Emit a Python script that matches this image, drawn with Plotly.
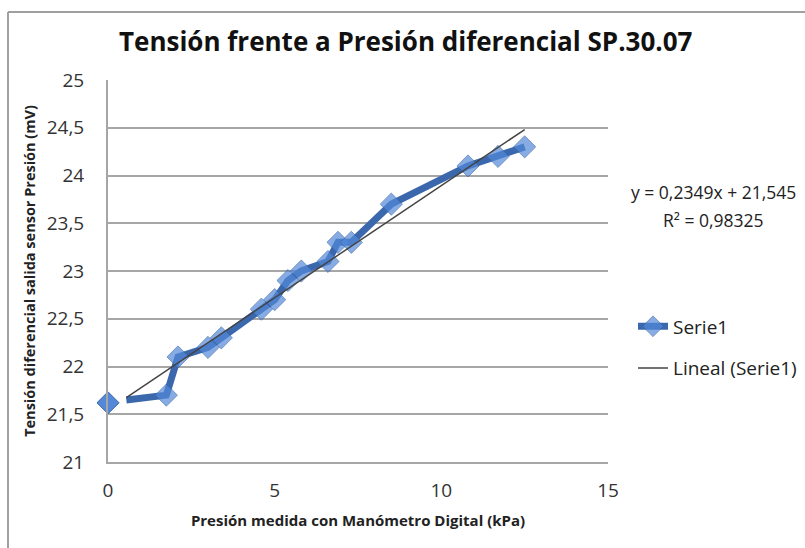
import plotly.graph_objects as go

# Medidas: presión diferencial (kPa) frente a tensión de salida del sensor (mV)
presion = [0.0, 0.55, 1.75, 2.1, 3.0, 3.4, 4.6, 5.0, 5.4, 5.8, 6.6, 6.9, 7.3, 8.5, 10.8, 11.7, 12.5]
tension = [21.62, 21.65, 21.7, 22.1, 22.2, 22.3, 22.6, 22.7, 22.9, 23.0, 23.1, 23.3, 23.3, 23.7, 24.1, 24.2, 24.3]

# Ajuste lineal (Lineal (Serie1))
pendiente = 0.2349
ordenada = 21.545
r2 = 0.98325

x_ticks = [0, 5, 10, 15]
x_ticktext = ["0", "5", "10", "15"]
y_ticks = [21, 21.5, 22, 22.5, 23, 23.5, 24, 24.5, 25]
y_ticktext = ["21", "21,5", "22", "22,5", "23", "23,5", "24", "24,5", "25"]

FONT = "'Open Sans', Lato, sans-serif"
LINE_BLUE = "#3b68ad"
MARK_BLUE = "#5489d8"

fig = go.Figure()

# Serie1: tramo unido por línea
n = len(presion) - 1
fig.add_trace(go.Scatter(
    x=presion[1:], y=tension[1:], mode="lines+markers", name="Serie1",
    legendgroup="serie",
    line=dict(color=LINE_BLUE, width=7),
    marker=dict(symbol="diamond", size=[0] + [17] * (n - 1), color=MARK_BLUE,
                line=dict(color="#3a68ad", width=1)),
))
# Primera medida (0 kPa), sin línea
fig.add_trace(go.Scatter(
    x=presion[:1], y=tension[:1], mode="markers", showlegend=False,
    legendgroup="serie", cliponaxis=False,
    marker=dict(symbol="diamond", size=17, color=MARK_BLUE,
                line=dict(color="#3a68ad", width=1)),
))

# Línea de tendencia
x_min = min(presion[1:])
x_max = max(presion[1:])
fig.add_trace(go.Scatter(
    x=[x_min, x_max], y=[pendiente * x_min + ordenada, pendiente * x_max + ordenada],
    mode="lines", name="Lineal (Serie1)", legendgroup="tendencia",
    line=dict(color="#444444", width=1.5),
))

eq_line = f"y = {pendiente:.4f}x + {ordenada:.3f}".replace(".", ",")
r2_line = "R² = " + f"{r2:.5f}".replace(".", ",")

fig.update_layout(
    width=805, height=548,
    margin=dict(l=108, r=197, t=80, b=86, autoexpand=False),
    paper_bgcolor="white", plot_bgcolor="white",
    font=dict(family=FONT, color="#222222"),
    title=dict(text="<b>Tensión frente a Presión diferencial SP.30.07</b>",
               x=0.504, xanchor="center", y=1 - 42 / 548, yanchor="middle",
               font=dict(size=26, family=FONT, color="#111111")),
    xaxis=dict(range=[0, 15], tickvals=x_ticks, ticktext=x_ticktext,
               showgrid=False, zeroline=False, showline=True, linecolor="#a6a6a6",
               linewidth=2, ticks="", tickfont=dict(size=19, color="#333333"),
               ticklabelstandoff=10,
               title=dict(text="<b>Presión medida con Manómetro Digital (kPa)</b>",
                          font=dict(size=15, color="#222222"), standoff=14)),
    yaxis=dict(range=[21, 25], tickvals=y_ticks, ticktext=y_ticktext,
               showgrid=True, gridcolor="#a6a6a6", gridwidth=2, zeroline=False,
               showline=True, linecolor="#a6a6a6", linewidth=2, ticks="",
               tickfont=dict(size=19, color="#333333"), ticklabelstandoff=18,
               title=dict(text="<b>Tensión diferencial salida sensor Presión (mV)</b>",
                          font=dict(size=14.5, color="#222222"), standoff=8)),
    legend=dict(x=1.05, xanchor="left", y=0.30, yanchor="middle",
                traceorder="grouped", tracegroupgap=14,
                font=dict(size=19, color="#222222"), bgcolor="rgba(0,0,0,0)"),
    annotations=[
        dict(text=eq_line, xref="paper", yref="paper",
             x=(713 - 108) / 500, y=(462 - 192) / 382,
             xanchor="center", yanchor="middle", showarrow=False,
             font=dict(size=17.5, color="#222222")),
        dict(text=r2_line, xref="paper", yref="paper",
             x=(713 - 108) / 500, y=(462 - 220) / 382,
             xanchor="center", yanchor="middle", showarrow=False,
             font=dict(size=17.5, color="#222222")),
    ],
    shapes=[
        dict(type="line", xref="paper", yref="paper",
             x0=(8 - 108) / 500, x1=(805 - 108) / 500,
             y0=(462 - 12) / 382, y1=(462 - 12) / 382,
             line=dict(color="#a0a0a0", width=2)),
        dict(type="line", xref="paper", yref="paper",
             x0=(8 - 108) / 500, x1=(8 - 108) / 500,
             y0=(462 - 12) / 382, y1=(462 - 548) / 382,
             line=dict(color="#a0a0a0", width=2)),
    ],
    showlegend=True,
)

fig.write_html("out.html")
